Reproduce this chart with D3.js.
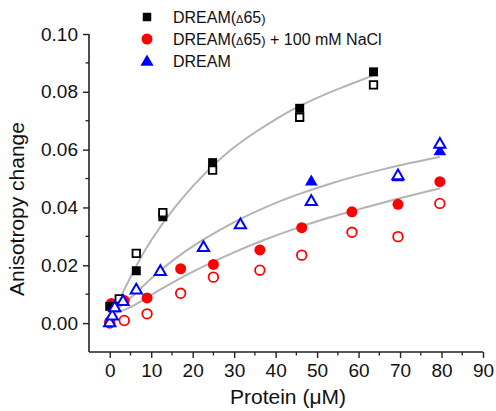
<!DOCTYPE html>
<html><head><meta charset="utf-8">
<script src="https://cdn.jsdelivr.net/npm/d3@7"></script>
<style>
html,body{margin:0;padding:0;background:#fff;}
text{font-family:Arial,"Liberation Sans",sans-serif;fill:#111;}
</style></head>
<body><svg id="c" width="496" height="411"></svg>
<script>
// ---- data ----
const seriesNames = ["DREAM(\u039465)", "DREAM(\u039465) + 100 mM NaCl", "DREAM"];
const blackFilled = [[0,0.0058],[6.4,0.0181],[12.8,0.0368],[24.8,0.0555],[45.8,0.0743],[63.6,0.0869]];
const blackOpen   = [[2.3,0.0084],[6.4,0.0241],[12.8,0.0382],[24.8,0.0529],[45.8,0.0712],[63.6,0.0824]];
const redFilled   = [[0,0.0005],[0.4,0.0068],[3.5,0.0078],[9.0,0.0087],[17.1,0.0188],[25.0,0.0203],[36.2,0.0253],[46.3,0.0330],[58.4,0.0385],[69.5,0.0411],[79.6,0.0489]];
const redOpen     = [[0,0.0],[3.5,0.0009],[9.0,0.0032],[17.1,0.0103],[25.0,0.0159],[36.2,0.0183],[46.3,0.0235],[58.4,0.0314],[69.5,0.0299],[79.6,0.0414]];
const blueFilled  = [[48.6,0.0489],[69.5,0.0503],[79.6,0.0593]];
const blueOpen    = [[0,0.0],[0.6,0.0024],[1.2,0.0052],[3.2,0.0074],[6.4,0.0114],[12.2,0.0178],[22.6,0.0261],[31.5,0.0339],[48.6,0.0420],[69.5,0.0509],[79.6,0.0618]];
// fitted curves
const blackFit = [[1.5,0.0055],[3,0.0102],[6.4,0.0200],[10,0.0290],[15,0.0390],[20,0.0475],[25,0.0548],[30,0.0610],[35,0.0660],[40,0.0706],[45,0.0746],[50,0.0780],[55,0.0810],[63.6,0.0857]];
const blueFit  = [[1.5,0.0045],[5,0.0085],[10,0.0156],[15,0.0216],[21.4,0.0281],[30,0.0351],[37.5,0.0402],[45,0.0444],[52.9,0.0482],[60,0.0511],[65,0.0529],[72,0.0553],[79.6,0.0575]];
const redFit   = [[1.5,0.0035],[5,0.0052],[10,0.0098],[15,0.0140],[21.4,0.0189],[30,0.0246],[37.5,0.0290],[45,0.0329],[52.9,0.0366],[60,0.0393],[70,0.0433],[79.6,0.0466]];
const xTicks = [0,10,20,30,40,50,60,70,80,90];
const yTicks = [0.00,0.02,0.04,0.06,0.08,0.10];
const xLabel = "Protein (\u03bcM)";
const yLabel = "Anisotropy change";

// ---- drawing ----
const svg = d3.select("#c");
const x = d3.scaleLinear().domain([-5, 90]).range([89, 483]);
const y = d3.scaleLinear().domain([-0.01, 0.10]).range([352, 34]);

// axes
const xAxis = d3.axisBottom(x).tickValues(xTicks).tickFormat(d3.format("d")).tickSize(6).tickPadding(6);
const yAxis = d3.axisLeft(y).tickValues(yTicks).tickFormat(d3.format(".2f")).tickSize(6).tickPadding(5);
const gx = svg.append("g").attr("transform","translate(0,352)").call(xAxis);
const gy = svg.append("g").attr("transform","translate(89,0)").call(yAxis);
// minor ticks
const xMinor = d3.range(-5, 90, 10).filter(v=>v>-5);
gx.selectAll(".minor").data(xMinor).enter().append("line")
  .attr("x1",d=>x(d)).attr("x2",d=>x(d)).attr("y1",0).attr("y2",3.5)
  .attr("stroke","#222").attr("stroke-width",1.3);
const yMinor = [0.01,0.03,0.05,0.07,0.09];
gy.selectAll(".minor").data(yMinor).enter().append("line")
  .attr("y1",d=>y(d)).attr("y2",d=>y(d)).attr("x1",0).attr("x2",-3.5)
  .attr("stroke","#222").attr("stroke-width",1.3);
[gx,gy].forEach(g=>{
  g.select(".domain").attr("stroke","#222").attr("stroke-width",1.6);
  g.selectAll(".tick line").attr("stroke","#222").attr("stroke-width",1.4);
  g.selectAll(".tick text").style("font-size","19px").style("font-family","Arial, 'Liberation Sans', sans-serif").attr("fill","#111");
});
gx.select(".domain").attr("d","M89,0H483");
gy.select(".domain").attr("d","M0,352V34");

// axis titles
svg.append("text").attr("x",288).attr("y",404).attr("text-anchor","middle")
  .style("font-size","21px").text(xLabel);
svg.append("text").attr("transform","translate(24,209) rotate(-90)").attr("text-anchor","middle")
  .style("font-size","21px").text(yLabel);

// fit curves
const line = d3.line().x(d=>x(d[0])).y(d=>y(d[1])).curve(d3.curveBasis);
[blackFit, blueFit, redFit].forEach(f=>{
  svg.append("path").attr("d",line(f)).attr("fill","none").attr("stroke","#b4b4b4").attr("stroke-width",2);
});

const sq = d3.symbol().type(d3.symbolSquare).size(81)();
const sqOpen = d3.symbol().type(d3.symbolSquare).size(56)();
const tri = d3.symbol().type(d3.symbolTriangle).size(70)();
const triOpen = d3.symbol().type(d3.symbolTriangle).size(55)();

function pts(data, path, fill, stroke, sw){
  svg.append("g").selectAll("path").data(data).enter().append("path")
    .attr("d",path).attr("transform",d=>`translate(${x(d[0])},${y(d[1])})`)
    .attr("fill",fill).attr("stroke",stroke).attr("stroke-width",sw);
}
function circ(data, r, fill, stroke, sw){
  svg.append("g").selectAll("circle").data(data).enter().append("circle")
    .attr("cx",d=>x(d[0])).attr("cy",d=>y(d[1])).attr("r",r)
    .attr("fill",fill).attr("stroke",stroke).attr("stroke-width",sw);
}
circ(redFilled, 5.5, "#ff0000", "none", 0);
pts(blackFilled, sq, "#000", "none", 0);
pts(blueFilled, tri, "#0000ff", "none", 0);
circ(redOpen, 4.8, "#fff", "#ff0000", 1.8);
pts(blackOpen, sqOpen, "#fff", "#000", 1.8);
pts(blueOpen, triOpen, "#fff", "#0000ff", 2);

// legend
const lg = svg.append("g");
const ly = [17, 39, 61];
lg.append("path").attr("d",d3.symbol().type(d3.symbolSquare).size(72)()).attr("transform",`translate(147,${ly[0]})`).attr("fill","#000");
lg.append("circle").attr("cx",147).attr("cy",ly[1]).attr("r",5.5).attr("fill","#ff0000");
lg.append("path").attr("d",d3.symbol().type(d3.symbolTriangle).size(75)()).attr("transform",`translate(147,${ly[2]+1})`).attr("fill","#0000ff");
seriesNames.forEach((n,i)=>{
  const t = lg.append("text").attr("x",173).attr("y",ly[i]+5.5).style("font-size","16px");
  const m = n.match(/^(.*?\()\u0394(65)(.*)$/);
  if(m){
    t.append("tspan").text(m[1]);
    t.append("tspan").style("font-size","11px").text("\u0394");
    t.append("tspan").text(m[2]);
    t.append("tspan").style("font-size","13px").text(m[3].slice(0,1));
    t.append("tspan").text(m[3].slice(1));
  } else t.text(n);
});
</script></body></html>
